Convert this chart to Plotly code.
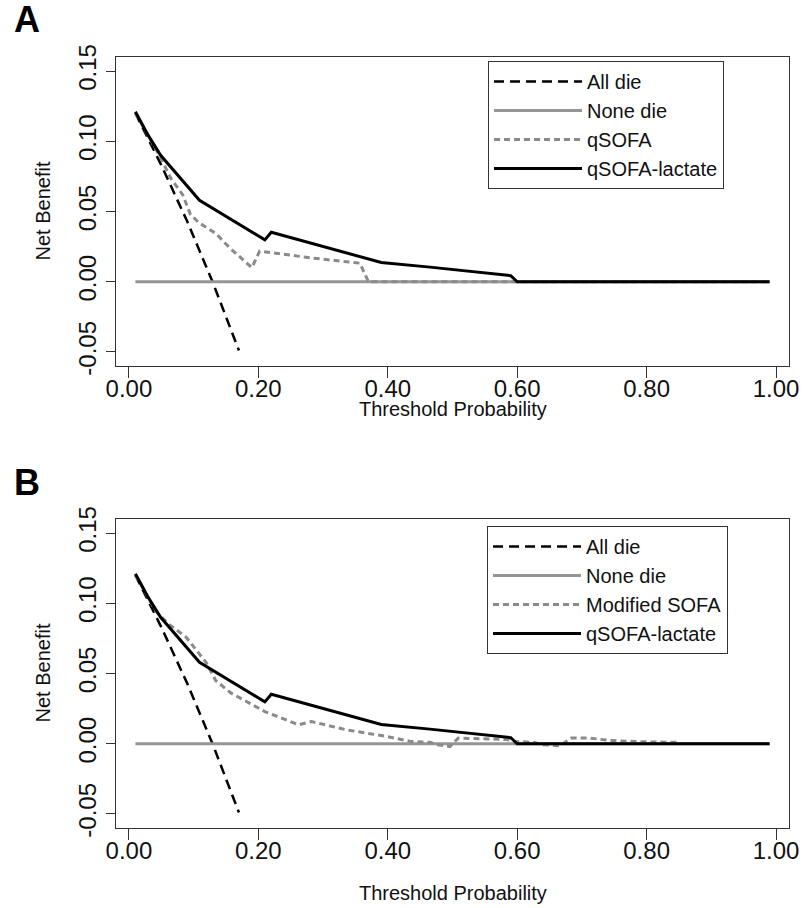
import plotly.graph_objects as go

# ---------------- data ----------------
x_ticks = [0.0, 0.2, 0.4, 0.6, 0.8, 1.0]
x_tick_labels = ["0.00", "0.20", "0.40", "0.60", "0.80", "1.00"]
y_ticks = [-0.05, 0.0, 0.05, 0.10, 0.15]
y_tick_labels = ["-0.05", "0.00", "0.05", "0.10", "0.15"]

# Treat-all ("All die") curve, same in both panels
all_die_x = [0.01, 0.03, 0.05, 0.07, 0.09, 0.11, 0.13, 0.15, 0.17]
all_die_y = [0.120, 0.102, 0.083, 0.063, 0.043, 0.021, -0.001, -0.025, -0.049]

# Treat-none ("None die")
none_die_x = [0.01, 0.99]
none_die_y = [0.0, 0.0]

# Panel A: qSOFA
qsofa_x = [0.01, 0.03, 0.047, 0.065, 0.083, 0.095, 0.108, 0.134, 0.156, 0.19,
           0.202, 0.258, 0.285, 0.357, 0.37, 0.99]
qsofa_y = [0.120, 0.104, 0.090, 0.0735, 0.062, 0.048, 0.042, 0.0345, 0.024, 0.010,
           0.0218, 0.0184, 0.0168, 0.0132, 0.0, 0.0]

# qSOFA-lactate (both panels)
lactate_x = [0.01, 0.03, 0.049, 0.109, 0.21, 0.22, 0.39, 0.465, 0.59, 0.60, 0.99]
lactate_y = [0.121, 0.104, 0.090, 0.058, 0.0298, 0.0352, 0.0137, 0.0104, 0.0043, 0.0, 0.0]

# Panel B: Modified SOFA
msofa_x = [0.01, 0.042, 0.062, 0.088, 0.119, 0.134, 0.158, 0.210, 0.262, 0.282,
           0.336, 0.398, 0.434, 0.465, 0.476, 0.496, 0.509, 0.584, 0.597, 0.625,
           0.640, 0.666, 0.676, 0.684, 0.713, 0.743, 0.790, 0.849]
msofa_y = [0.120, 0.094, 0.085, 0.076, 0.058, 0.045, 0.036, 0.0229, 0.0135, 0.0158,
           0.0099, 0.0052, 0.0018, 0.001, -0.0007, -0.002, 0.004, 0.003, 0.0016, 0.001,
           -0.0007, -0.0014, 0.0016, 0.004, 0.004, 0.0023, 0.0014, 0.001]

# ---------------- styling ----------------
W, H = 803, 908
FONT = "Liberation Sans, Arial, sans-serif"
BLACK = "#000000"
GRAY_NONE = "#959595"
GRAY_DOT = "#8a8a8a"
AXIS = "#333333"

fig = go.Figure()


def add_panel(xa, ya, leg, model_name, model_x, model_y):
    fig.add_trace(go.Scatter(x=all_die_x, y=all_die_y, mode="lines", name="All die",
                             line=dict(color=BLACK, width=2.5, dash="10px,6px"),
                             xaxis=xa, yaxis=ya, legend=leg))
    fig.add_trace(go.Scatter(x=none_die_x, y=none_die_y, mode="lines", name="None die",
                             line=dict(color=GRAY_NONE, width=3),
                             xaxis=xa, yaxis=ya, legend=leg))
    fig.add_trace(go.Scatter(x=model_x, y=model_y, mode="lines", name=model_name,
                             line=dict(color=GRAY_DOT, width=3, dash="6px,4px"),
                             xaxis=xa, yaxis=ya, legend=leg))
    fig.add_trace(go.Scatter(x=lactate_x, y=lactate_y, mode="lines", name="qSOFA-lactate",
                             line=dict(color=BLACK, width=3),
                             xaxis=xa, yaxis=ya, legend=leg))


add_panel("x", "y", "legend", "qSOFA", qsofa_x, qsofa_y)
add_panel("x2", "y2", "legend2", "Modified SOFA", msofa_x, msofa_y)

x_dom = [116 / W, 789 / W]
yA_dom = [1 - 366 / H, 1 - 57 / H]
yB_dom = [1 - 828 / H, 1 - 519 / H]


def xaxis_cfg(anchor):
    return dict(domain=x_dom, range=[-0.02, 1.02], anchor=anchor, automargin=False,
                tickmode="array", tickvals=x_ticks, ticktext=x_tick_labels,
                ticks="outside", ticklen=11, tickwidth=1, tickcolor=AXIS,
                ticklabelstandoff=-10,
                showline=True, mirror=True, linecolor=AXIS, linewidth=1,
                showgrid=False, zeroline=False,
                tickfont=dict(family=FONT, size=24, color="#111"))


def yaxis_cfg(dom, anchor):
    return dict(domain=dom, range=[-0.06, 0.16], anchor=anchor, automargin=False,
                tickmode="array", tickvals=y_ticks, ticktext=y_tick_labels,
                tickangle=-90,
                ticks="outside", ticklen=9, tickwidth=1, tickcolor=AXIS,
                showline=True, mirror=True, linecolor=AXIS, linewidth=1,
                showgrid=False, zeroline=False,
                tickfont=dict(family=FONT, size=24, color="#111"))


def legend_cfg(top_px, left_px):
    return dict(x=left_px / W, y=1 - top_px / H, xanchor="left", yanchor="top",
                bgcolor="white", bordercolor=AXIS, borderwidth=1,
                font=dict(family=FONT, size=20, color="#111"),
                itemwidth=88, tracegroupgap=0, traceorder="normal")


annotations = [
    dict(text="<b>A</b>", x=12 / W, y=1 - 20 / H, xref="paper", yref="paper",
         xanchor="left", yanchor="middle", showarrow=False,
         font=dict(family=FONT, size=36, color="black")),
    dict(text="<b>B</b>", x=12 / W, y=1 - 482 / H, xref="paper", yref="paper",
         xanchor="left", yanchor="middle", showarrow=False,
         font=dict(family=FONT, size=36, color="black")),
    dict(text="Net Benefit", x=42 / W, y=1 - 211.5 / H, xref="paper", yref="paper",
         textangle=-90, xanchor="center", yanchor="middle", showarrow=False,
         font=dict(family=FONT, size=20, color="#111")),
    dict(text="Net Benefit", x=42 / W, y=1 - 673.5 / H, xref="paper", yref="paper",
         textangle=-90, xanchor="center", yanchor="middle", showarrow=False,
         font=dict(family=FONT, size=20, color="#111")),
    dict(text="Threshold Probability", x=452.5 / W, y=1 - 409 / H, xref="paper", yref="paper",
         xanchor="center", yanchor="middle", showarrow=False,
         font=dict(family=FONT, size=20, color="#111")),
    dict(text="Threshold Probability", x=452.5 / W, y=1 - 893 / H, xref="paper", yref="paper",
         xanchor="center", yanchor="middle", showarrow=False,
         font=dict(family=FONT, size=20, color="#111")),
]

fig.update_layout(
    width=W, height=H,
    margin=dict(l=0, r=0, t=0, b=0, pad=0, autoexpand=False),
    paper_bgcolor="white", plot_bgcolor="white",
    font=dict(family=FONT, color="#111"),
    showlegend=True,
    xaxis=xaxis_cfg("y"), yaxis=yaxis_cfg(yA_dom, "x"),
    xaxis2=xaxis_cfg("y2"), yaxis2=yaxis_cfg(yB_dom, "x2"),
    legend=legend_cfg(61, 488),
    legend2=legend_cfg(526, 487),
    annotations=annotations,
)

fig.write_html(
    "out.html",
    config={"displayModeBar": False},
    post_script="document.body.style.margin='0';document.body.style.overflow='hidden';",
)
